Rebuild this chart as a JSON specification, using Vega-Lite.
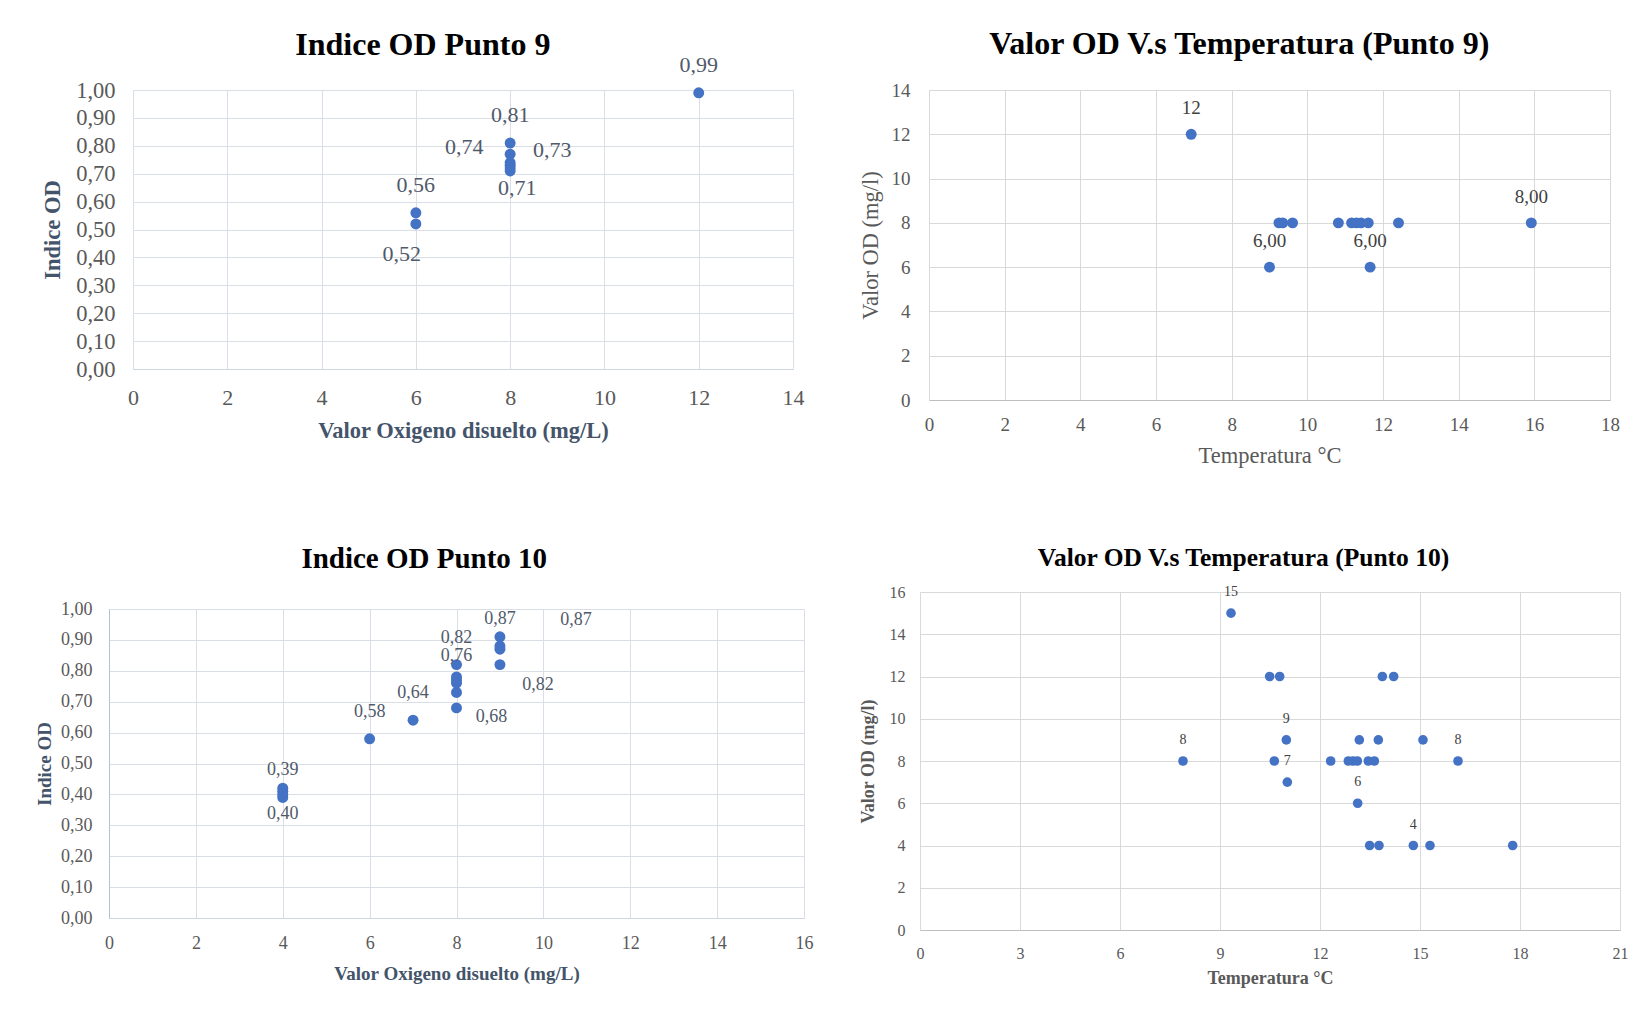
{
  "$schema": "https://vega.github.io/schema/vega-lite/v6.json",
  "background": "white",
  "padding": {"left": 35, "top": 28, "right": 5, "bottom": 5},
  "config": {"font": "Liberation Serif", "view": {"stroke": null}},
  "datasets": {
    "p9od": [
      {"od": 6, "indice": 0.56, "label": "0,56"},
      {"od": 6, "indice": 0.52, "label": "0,52"},
      {"od": 8, "indice": 0.81, "label": "0,81"},
      {"od": 8, "indice": 0.77, "label": ""},
      {"od": 8, "indice": 0.74, "label": "0,74"},
      {"od": 8, "indice": 0.73, "label": "0,73"},
      {"od": 8, "indice": 0.72, "label": ""},
      {"od": 8, "indice": 0.71, "label": "0,71"},
      {"od": 12, "indice": 0.99, "label": "0,99"}
    ],
    "p9temp": [
      {"temp": 6.93, "od": 12, "label": "12"},
      {"temp": 9.0, "od": 6, "label": "6,00"},
      {"temp": 9.25, "od": 8, "label": ""},
      {"temp": 9.35, "od": 8, "label": ""},
      {"temp": 9.61, "od": 8, "label": ""},
      {"temp": 10.82, "od": 8, "label": ""},
      {"temp": 11.17, "od": 8, "label": ""},
      {"temp": 11.3, "od": 8, "label": ""},
      {"temp": 11.42, "od": 8, "label": ""},
      {"temp": 11.61, "od": 8, "label": ""},
      {"temp": 11.66, "od": 6, "label": "6,00"},
      {"temp": 12.41, "od": 8, "label": ""},
      {"temp": 15.92, "od": 8, "label": "8,00"}
    ],
    "p10od": [
      {"od": 4, "indice": 0.42, "label": ""},
      {"od": 4, "indice": 0.41, "label": ""},
      {"od": 4, "indice": 0.40, "label": "0,40"},
      {"od": 4, "indice": 0.39, "label": "0,39"},
      {"od": 6, "indice": 0.58, "label": "0,58"},
      {"od": 7, "indice": 0.64, "label": "0,64"},
      {"od": 8, "indice": 0.82, "label": "0,82"},
      {"od": 8, "indice": 0.78, "label": ""},
      {"od": 8, "indice": 0.77, "label": ""},
      {"od": 8, "indice": 0.76, "label": "0,76"},
      {"od": 8, "indice": 0.73, "label": ""},
      {"od": 8, "indice": 0.68, "label": "0,68"},
      {"od": 9, "indice": 0.91, "label": ""},
      {"od": 9, "indice": 0.88, "label": "0,87"},
      {"od": 9, "indice": 0.87, "label": "0,87"},
      {"od": 9, "indice": 0.82, "label": "0,82"}
    ],
    "p10temp": [
      {"temp": 9.33, "od": 15, "label": "15"},
      {"temp": 10.49, "od": 12, "label": ""},
      {"temp": 10.79, "od": 12, "label": ""},
      {"temp": 13.87, "od": 12, "label": ""},
      {"temp": 14.21, "od": 12, "label": ""},
      {"temp": 10.99, "od": 9, "label": "9"},
      {"temp": 13.18, "od": 9, "label": ""},
      {"temp": 13.75, "od": 9, "label": ""},
      {"temp": 15.09, "od": 9, "label": ""},
      {"temp": 7.89, "od": 8, "label": "8"},
      {"temp": 10.63, "od": 8, "label": ""},
      {"temp": 12.32, "od": 8, "label": ""},
      {"temp": 12.85, "od": 8, "label": ""},
      {"temp": 12.99, "od": 8, "label": ""},
      {"temp": 13.12, "od": 8, "label": ""},
      {"temp": 13.45, "od": 8, "label": ""},
      {"temp": 13.63, "od": 8, "label": ""},
      {"temp": 16.14, "od": 8, "label": "8"},
      {"temp": 11.02, "od": 7, "label": "7"},
      {"temp": 13.13, "od": 6, "label": "6"},
      {"temp": 13.49, "od": 4, "label": ""},
      {"temp": 13.77, "od": 4, "label": ""},
      {"temp": 14.8, "od": 4, "label": "4"},
      {"temp": 15.3, "od": 4, "label": ""},
      {"temp": 17.78, "od": 4, "label": ""}
    ]
  },
  "columns": 2,
  "align": "none",
  "spacing": {"row": 78, "column": 46},
  "concat": [
    {
      "width": 684, "height": 279,
      "title": {"text": "Indice OD Punto 9", "fontSize": 32, "fontWeight": "bold", "color": "#000000", "offset": -8, "anchor": "middle", "frame": "bounds"},
      "data": {"name": "p9od"},
      "encoding": {
        "x": {"field": "od", "type": "quantitative", "scale": {"domain": [0, 14], "nice": false, "range": [24, 684]},
          "axis": {"title": "Valor Oxigeno disuelto (mg/L)", "values": [0, 2, 4, 6, 8, 10, 12, 14], "labelFlush": false, "grid": true, "gridColor": "#d9dee7", "domainColor": "#d0d6e0", "ticks": false, "labelFontSize": 22, "labelColor": "#595959", "labelPadding": 18, "titleFontSize": 22.5, "titleFontWeight": "bold", "titleColor": "#44546a", "titlePadding": 11}},
        "y": {"field": "indice", "type": "quantitative", "scale": {"domain": [0, 1], "nice": false},
          "axis": {"title": "Indice OD", "offset": -24, "values": [0, 0.1, 0.2, 0.3, 0.4, 0.5, 0.6, 0.7, 0.8, 0.9, 1], "labelFlush": false, "labelExpr": "replace(format(datum.value, '.2f'), '.', ',')", "grid": true, "gridColor": "#d9dee7", "domainColor": "#d9dee7", "ticks": false, "labelFontSize": 22.5, "labelColor": "#595959", "labelPadding": 18, "titleFontSize": 22.5, "titleFontWeight": "bold", "titleColor": "#44546a", "titlePadding": 11}},
        "text": {"field": "label"}
      },
      "layer": [
        {"mark": {"type": "circle", "size": 120, "color": "#4472c4", "opacity": 1}},
        {"transform": [{"filter": {"field": "label", "oneOf": ["0,99", "0,81", "0,56"]}}], "mark": {"type": "text", "dy": -28, "fontSize": 22, "color": "#505a6a"}},
        {"transform": [{"filter": {"field": "label", "equal": "0,74"}}], "mark": {"type": "text", "dx": -46, "dy": -16, "fontSize": 22, "color": "#505a6a"}},
        {"transform": [{"filter": {"field": "label", "equal": "0,73"}}], "mark": {"type": "text", "dx": 42, "dy": -15, "fontSize": 22, "color": "#505a6a"}},
        {"transform": [{"filter": {"field": "label", "equal": "0,71"}}], "mark": {"type": "text", "dx": 7, "dy": 17, "fontSize": 22, "color": "#505a6a"}},
        {"transform": [{"filter": {"field": "label", "equal": "0,52"}}], "mark": {"type": "text", "dx": -14, "dy": 30, "fontSize": 22, "color": "#505a6a"}}
      ]
    },
    {
      "width": 681, "height": 310,
      "title": {"text": "Valor OD V.s Temperatura (Punto 9)", "fontSize": 32, "fontWeight": "bold", "color": "#000000", "offset": 20, "anchor": "middle", "frame": "bounds"},
      "data": {"name": "p9temp"},
      "encoding": {
        "x": {"field": "temp", "type": "quantitative", "scale": {"domain": [0, 18], "nice": false},
          "axis": {"title": "Temperatura °C", "values": [0, 2, 4, 6, 8, 10, 12, 14, 16, 18], "labelFlush": false, "grid": true, "gridColor": "#d9d9d9", "domainColor": "#bfbfbf", "ticks": false, "labelFontSize": 19, "labelColor": "#595959", "labelPadding": 15, "titleFontSize": 22.5, "titleFontWeight": "normal", "titleColor": "#595959", "titlePadding": 10}},
        "y": {"field": "od", "type": "quantitative", "scale": {"domain": [0, 14], "nice": false},
          "axis": {"title": "Valor OD (mg/l)", "values": [0, 2, 4, 6, 8, 10, 12, 14], "labelFlush": false, "grid": true, "gridColor": "#d9d9d9", "domainColor": "#d9d9d9", "ticks": false, "labelFontSize": 19, "labelColor": "#595959", "labelPadding": 19, "titleFontSize": 22.5, "titleFontWeight": "normal", "titleColor": "#595959", "titlePadding": 9}},
        "text": {"field": "label"}
      },
      "layer": [
        {"mark": {"type": "circle", "size": 120, "color": "#4472c4", "opacity": 1}},
        {"transform": [{"filter": "datum.label != ''"}], "mark": {"type": "text", "dy": -26, "fontSize": 19, "color": "#404040"}}
      ]
    },
    {
      "width": 695, "height": 309,
      "title": {"text": "Indice OD Punto 10", "fontSize": 29, "fontWeight": "bold", "color": "#000000", "offset": 26, "anchor": "middle", "frame": "bounds"},
      "data": {"name": "p10od"},
      "encoding": {
        "x": {"field": "od", "type": "quantitative", "scale": {"domain": [0, 16], "nice": false},
          "axis": {"title": "Valor Oxigeno disuelto (mg/L)", "values": [0, 2, 4, 6, 8, 10, 12, 14, 16], "labelFlush": false, "grid": true, "gridColor": "#d9dee7", "domainColor": "#d0d6e0", "ticks": false, "labelFontSize": 18, "labelColor": "#595959", "labelPadding": 16, "titleFontSize": 19, "titleFontWeight": "bold", "titleColor": "#44546a", "titlePadding": 12}},
        "y": {"field": "indice", "type": "quantitative", "scale": {"domain": [0, 1], "nice": false},
          "axis": {"title": "Indice OD", "values": [0, 0.1, 0.2, 0.3, 0.4, 0.5, 0.6, 0.7, 0.8, 0.9, 1], "labelFlush": false, "labelExpr": "replace(format(datum.value, '.2f'), '.', ',')", "grid": true, "gridColor": "#d9dee7", "domainColor": "#b4c0d4", "ticks": false, "labelFontSize": 18, "labelColor": "#595959", "labelPadding": 17, "titleFontSize": 19, "titleFontWeight": "bold", "titleColor": "#44546a", "titlePadding": 6}},
        "text": {"field": "label"}
      },
      "layer": [
        {"mark": {"type": "circle", "size": 120, "color": "#4472c4", "opacity": 1}},
        {"transform": [{"filter": "(datum.label == '0,39') || (datum.label == '0,58') || (datum.label == '0,64') || (datum.label == '0,76') || (datum.label == '0,82' && datum.od == 8) || (datum.label == '0,87' && datum.indice > 0.875)"}], "mark": {"type": "text", "dy": -27, "fontSize": 18, "color": "#505a6a"}},
        {"transform": [{"filter": {"field": "label", "equal": "0,40"}}], "mark": {"type": "text", "dy": 20, "fontSize": 18, "color": "#505a6a"}},
        {"transform": [{"filter": {"field": "label", "equal": "0,68"}}], "mark": {"type": "text", "dx": 35, "dy": 9, "fontSize": 18, "color": "#505a6a"}},
        {"transform": [{"filter": "datum.label == '0,87' && datum.indice < 0.875"}], "mark": {"type": "text", "dx": 76, "dy": -29, "fontSize": 18, "color": "#505a6a"}},
        {"transform": [{"filter": "datum.label == '0,82' && datum.od == 9"}], "mark": {"type": "text", "dx": 38, "dy": 20, "fontSize": 18, "color": "#505a6a"}}
      ]
    },
    {
      "width": 700, "height": 338,
      "title": {"text": "Valor OD V.s Temperatura (Punto 10)", "fontSize": 25.5, "fontWeight": "bold", "color": "#000000", "offset": 13, "anchor": "middle", "frame": "bounds"},
      "data": {"name": "p10temp"},
      "encoding": {
        "x": {"field": "temp", "type": "quantitative", "scale": {"domain": [0, 21], "nice": false},
          "axis": {"title": "Temperatura °C", "values": [0, 3, 6, 9, 12, 15, 18, 21], "labelFlush": false, "grid": true, "gridColor": "#d9d9d9", "domainColor": "#bfbfbf", "ticks": false, "labelFontSize": 16, "labelColor": "#595959", "labelPadding": 15, "titleFontSize": 18, "titleFontWeight": "bold", "titleColor": "#595959", "titlePadding": 8}},
        "y": {"field": "od", "type": "quantitative", "scale": {"domain": [0, 16], "nice": false},
          "axis": {"title": "Valor OD (mg/l)", "values": [0, 2, 4, 6, 8, 10, 12, 14, 16], "labelFlush": false, "grid": true, "gridColor": "#d9d9d9", "domainColor": "#d9d9d9", "ticks": false, "labelFontSize": 16, "labelColor": "#595959", "labelPadding": 15, "titleFontSize": 18, "titleFontWeight": "bold", "titleColor": "#595959", "titlePadding": 12}},
        "text": {"field": "label"}
      },
      "layer": [
        {"mark": {"type": "circle", "size": 92, "color": "#4472c4", "opacity": 1}},
        {"transform": [{"filter": "datum.label != ''"}], "mark": {"type": "text", "dy": -21, "fontSize": 14, "color": "#404040"}}
      ]
    }
  ]
}
